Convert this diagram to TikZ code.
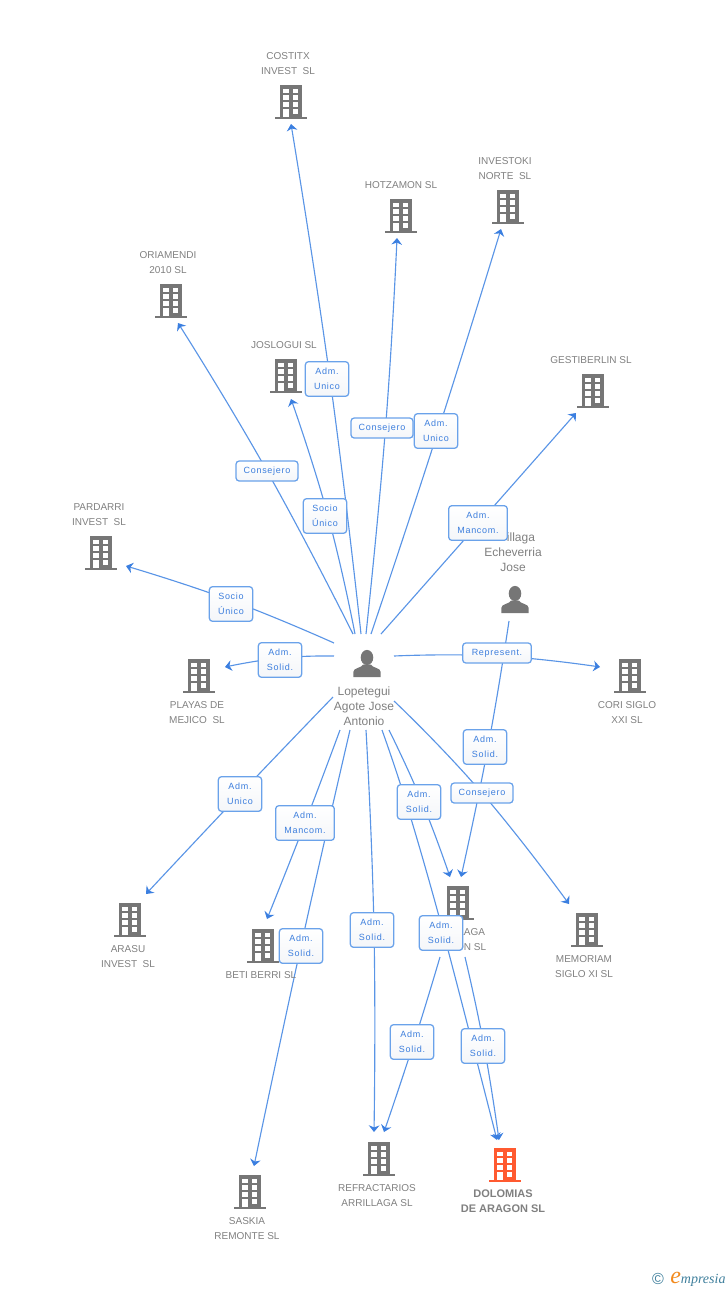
\documentclass[tikz,border=0pt]{standalone}
\usepackage{fontspec}
\setmainfont{Liberation Sans}
\newfontfamily\lblfont[LetterSpace=8]{Liberation Sans}
\newfontfamily\logofont{Liberation Serif}
\usetikzlibrary{calc,arrows.meta,shadings}
\definecolor{edgeblue}{HTML}{5A95E6}
\definecolor{tipblue}{HTML}{3B7FE0}
\definecolor{lbltext}{HTML}{3C7EDD}
\definecolor{lblborder}{HTML}{6AA2EA}
\definecolor{lblshade}{HTML}{F4F6F9}
\definecolor{icongrey}{HTML}{767676}
\definecolor{textgrey}{HTML}{808080}
\definecolor{mainorange}{HTML}{FF5A30}
\definecolor{logoteal}{HTML}{3F7F9C}
\definecolor{logoorange}{HTML}{F28A1E}
\pgfdeclarelayer{edges}
\pgfsetlayers{edges,main}
\tikzset{
  x=0.75pt,y=-0.75pt,
  bldg/.style={inner sep=0pt,minimum width=24pt,minimum height=26pt,draw=none},
  pers/.style={inner sep=0pt,minimum width=21pt,minimum height=20pt,draw=none},
  name text/.style={text=textgrey,font=\fontsize{7.5}{11.25}\selectfont,align=center,inner sep=0pt},
  main text/.style={text=textgrey,font=\bfseries\fontsize{8.25}{11.25}\selectfont,align=center,inner sep=0pt},
  person text/.style={text=textgrey,font=\fontsize{9}{11.25}\selectfont,align=center,inner sep=0pt},
  rolebox/.style={draw=lblborder,line width=0.95pt,rounded corners=2.4pt,top color=white,bottom color=lblshade,
    text=lbltext,font=\lblfont\fontsize{6.75}{11.25}\selectfont,align=center,inner sep=0pt,minimum width=32.5pt,minimum height=26pt},
  rolewide/.style={rolebox,minimum width=44pt},
  roleflat/.style={rolebox,minimum width=46.5pt,minimum height=15pt},
  linkline/.style={draw=edgeblue,line width=0.85pt,-{Stealth[length=5pt,width=8pt,inset=1.6pt,color=tipblue]}},
  buildingicon/.pic={
    \fill[pic actions] (-11.3,-17) rectangle (11.3,16);
    \fill[pic actions] (-16,14.5) rectangle (16,17);
    \foreach \yy in {-13.3,-6.6,0.1}{
      \fill[white] (-7.6,\yy) rectangle (-2.3,\yy+4.6);
      \fill[white] (2,\yy) rectangle (7.4,\yy+4.6);
    }
    \fill[white] (-7.6,7.2) rectangle (-2.3,14.5);
    \fill[white] (2,7.2) rectangle (7.4,11.6);
  },
  personicon/.pic={
    \fill[icongrey] (0,-6.5) ellipse [x radius=4.7pt,y radius=5.7pt];
    \fill[icongrey] (-13.7,13) -- (-13.7,8) .. controls (-13.7,3.5) and (-6,4.5) .. (-3.8,0.5)
      -- (3.8,0.5) .. controls (6,4.5) and (13.7,3.5) .. (13.7,8) -- (13.7,13) -- cycle;
  }
}
\newcommand\building[4][icongrey]{%
  \node[bldg] (#2) at (#3,#4) {};
  \pic[fill=#1] at (#2) {buildingicon};
}
\begin{document}
\begin{tikzpicture}
\useasboundingbox (0,0) rectangle (728,1290);

% buildings
\building{cos}{291}{102}
\building{hot}{401}{216}
\building{inv}{508}{207}
\building{ori}{171}{301}
\building{jos}{286}{376}
\building{ges}{593}{391}
\building{par}{101}{553}
\building{pla}{199}{676}
\building{cor}{630}{676}
\building{ara}{130}{920}
\building{bet}{263}{946}
\building{mid}{458}{903}
\building{mem}{587}{930}
\building{ref}{379}{1159}
\building[mainorange]{dol}{505}{1165}
\building{sas}{250}{1192}

% people
\node[pers] (lop) at (367,664) {};
\pic at (lop) {personicon};
\node[pers] (arr) at (515,600) {};
\pic at (arr) {personicon};

% names
\node[name text] (cosT) at (288,64) {COSTITX\\INVEST\ \ SL};
\node[name text] (hotT) at (401,185) {HOTZAMON SL};
\node[name text] (invT) at (505,169) {INVESTOKI\\NORTE\ \ SL};
\node[name text] (oriT) at (168,262.5) {ORIAMENDI\\2010 SL};
\node[name text] (josT) at (284,345) {JOSLOGUI SL};
\node[name text] (gesT) at (591,360) {GESTIBERLIN SL};
\node[name text] (parT) at (99,514.5) {PARDARRI\\INVEST\ \ SL};
\node[name text] (plaT) at (197,712.5) {PLAYAS DE\\MEJICO\ \ SL};
\node[name text] (corT) at (627,712.5) {CORI SIGLO\\XXI SL};
\node[name text] (araT) at (128,956.5) {ARASU\\INVEST\ \ SL};
\node[name text] (betT) at (261,975) {BETI BERRI SL};
\node[name text] (midT) at (457,939.5) {ARRILLAGA\\ARAGON SL};
\node[name text] (memT) at (584,966.5) {MEMORIAM\\SIGLO XI SL};
\node[name text] (refT) at (377,1195.5) {REFRACTARIOS\\ARRILLAGA SL};
\node[main text] (dolT) at (503,1201) {DOLOMIAS\\DE ARAGON SL};
\node[name text] (sasT) at (247,1228.5) {SASKIA\\REMONTE SL};
\node[person text] (lopT) at (364,706) {Lopetegui\\Agote Jose\\Antonio};
\node[person text] (arrT) at (513,552) {Arrillaga\\Echeverria\\Jose};

% role boxes
\node[roleflat] (r1) at (267,471) {Consejero};
\node[rolebox] (r2) at (325,516) {Socio\\Único};
\node[rolebox] (r3) at (327,379) {Adm.\\Unico};
\node[roleflat] (r4) at (382,428) {Consejero};
\node[rolebox] (r5) at (436,431) {Adm.\\Unico};
\node[rolewide] (r6) at (478,523) {Adm.\\Mancom.};
\node[rolebox] (r7) at (231,604) {Socio\\Único};
\node[rolebox] (r8) at (280,660) {Adm.\\Solid.};
\node[roleflat,minimum width=51.5pt] (r9) at (497,653) {Represent.};
\node[rolebox] (r10) at (240,794) {Adm.\\Unico};
\node[rolewide] (r11) at (305,823) {Adm.\\Mancom.};
\node[rolebox] (r12) at (301,946) {Adm.\\Solid.};
\node[rolebox] (r13) at (372,930) {Adm.\\Solid.};
\node[rolebox] (r14) at (419,802) {Adm.\\Solid.};
\node[rolebox] (r15) at (441,933) {Adm.\\Solid.};
\node[roleflat] (r16) at (482,793) {Consejero};
\node[rolebox] (r17) at (485,747) {Adm.\\Solid.};
\node[rolebox] (r18) at (412,1042) {Adm.\\Solid.};
\node[rolebox] (r19) at (483,1046) {Adm.\\Solid.};

% connectors
\begin{pgfonlayer}{edges}
\draw[linkline] plot[smooth,tension=.85] coordinates {($(lop)+(-14,-30)$) ($(r1)+(0,0)$) ($(ori)+(7,22)$)};
\draw[linkline] plot[smooth,tension=.85] coordinates {($(lop)+(-12,-30)$) ($(r2)+(3,0)$) ($(jos)+(5,23)$)};
\draw[linkline] plot[smooth,tension=.85] coordinates {($(lop)+(-6,-30)$) ($(r3)+(3,0)$) ($(cos)+(0,22)$)};
\draw[linkline] plot[smooth,tension=.85] coordinates {($(lop)+(-1,-30)$) ($(r4)+(3.5,0)$) ($(hot)+(-4,22)$)};
\draw[linkline] plot[smooth,tension=.85] coordinates {($(lop)+(4,-30)$) ($(r5)+(2,0)$) ($(inv)+(-7,22)$)};
\draw[linkline] plot[smooth,tension=.85] coordinates {($(lop)+(14,-30)$) ($(r6)+(1,0)$) ($(ges)+(-17,22)$)};
\draw[linkline] plot[smooth,tension=.85] coordinates {($(lop)+(-33,-21)$) ($(r7)+(0,-3.5)$) ($(par)+(25,13)$)};
\draw[linkline] plot[smooth,tension=.85] coordinates {($(lop)+(-33,-8)$) ($(r8)+(0,-2)$) ($(pla)+(26,-9)$)};
\draw[linkline] plot[smooth,tension=.85] coordinates {($(lop)+(27,-8)$) ($(r9)+(0,3)$) ($(cor)+(-30,-9)$)};
\draw[linkline] plot[smooth,tension=.85] coordinates {($(lop)+(-34,33)$) (r10) ($(ara)+(16,-26)$)};
\draw[linkline] plot[smooth,tension=.85] coordinates {($(lop)+(-27,66)$) (r11) ($(bet)+(4,-27)$)};
\draw[linkline] plot[smooth,tension=.85] coordinates {($(lop)+(-17,66)$) (r12) ($(sas)+(4,-26)$)};
\draw[linkline] plot[smooth,tension=.85] coordinates {($(lop)+(-1,66)$) ($(r13)+(2,0)$) ($(ref)+(-5,-27)$)};
\draw[linkline] plot[smooth,tension=.85] coordinates {($(lop)+(22,66)$) ($(r14)+(3,0)$) ($(mid)+(-8,-26)$)};
\draw[linkline] plot[smooth,tension=.6] coordinates {($(lop)+(15,66)$) ($(r14)+(-13,0)$) ($(r15)+(2.5,0)$) ($(dol)+(-8,-25)$)};
\draw[linkline] plot[smooth,tension=.85] coordinates {($(lop)+(27,37)$) (r16) ($(mem)+(-18,-26)$)};
\draw[linkline] plot[smooth,tension=.85] coordinates {($(arr)+(-6,21)$) ($(r17)+(3,0)$) ($(mid)+(3,-26)$)};
\draw[linkline] plot[smooth,tension=.85] coordinates {($(mid)+(-18,54)$) ($(r18)+(2,0)$) ($(ref)+(5,-27)$)};
\draw[linkline] plot[smooth,tension=.85] coordinates {($(mid)+(7,54)$) ($(r19)+(1,0)$) ($(dol)+(-6,-25)$)};
\end{pgfonlayer}

% logo
\node[text=logoteal,font=\fontsize{12}{12}\selectfont,inner sep=0pt] (copy) at (658,1279) {©};
\node[anchor=west,inner sep=0pt,text=logoteal,font=\logofont\itshape\fontsize{10.5}{12}\selectfont] (emp) at (670,1279)
  {\textcolor{logoorange}{\fontsize{18}{12}\selectfont e}mpresia};
\end{tikzpicture}
\end{document}
